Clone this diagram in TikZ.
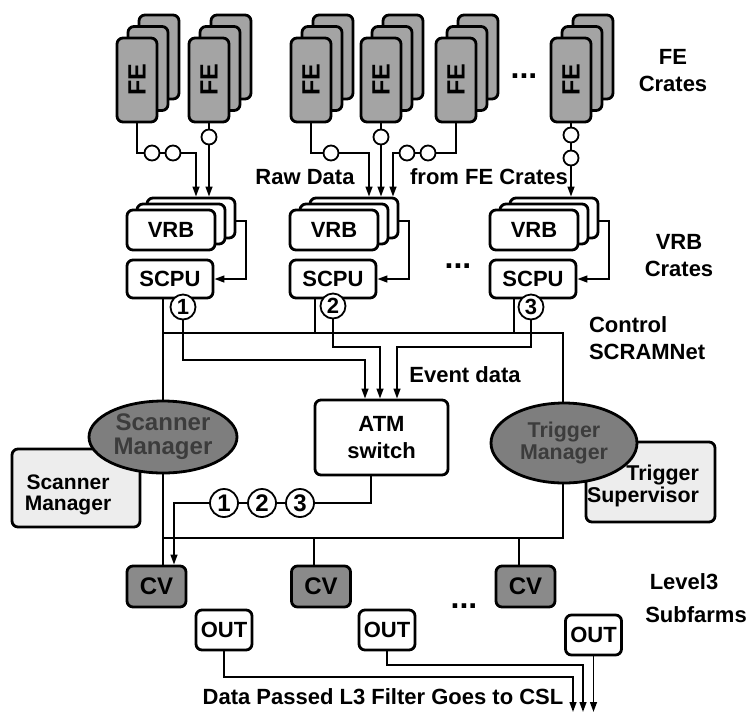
\documentclass[tikz,border=0pt]{standalone}
\usepackage{fontspec}
\setmainfont{Liberation Sans}
\usetikzlibrary{arrows.meta,shapes.geometric,calc}
\pgfdeclarelayer{wires}
\pgfsetlayers{wires,main}

\definecolor{fegray}{HTML}{A4A4A4}
\definecolor{cvgray}{HTML}{8A8A8A}
\definecolor{mgrgray}{HTML}{7E7E7E}
\definecolor{mgrtext}{HTML}{3C3C3C}
\definecolor{panelgray}{HTML}{EDEDED}

\begin{document}
\begin{tikzpicture}[x=0.5pt,y=-0.5pt,
  every node/.style={font=\fontsize{11}{13.5}\selectfont\bfseries},
  box/.style={draw, line width=1.4pt, rounded corners=3pt, fill=white, inner sep=0pt, align=center},
  fecard/.style={box, fill=fegray, minimum width=20pt, minimum height=42pt, font=\fontsize{12.5}{12.5}\selectfont\bfseries},
  vrbbox/.style={box, minimum width=44pt, minimum height=20pt},
  scpubox/.style={box, minimum width=43pt, minimum height=19pt},
  cvbox/.style={box, fill=cvgray, minimum width=29.5pt, minimum height=20.5pt, font=\fontsize{12}{12}\selectfont\bfseries},
  outbox/.style={box, minimum width=28pt, minimum height=20pt},
  atmbox/.style={box, minimum width=66.5pt, minimum height=37.5pt},
  panel/.style={box, fill=panelgray},
  mgr/.style={ellipse, draw, line width=1.4pt, fill=mgrgray, text=mgrtext, inner sep=0pt, align=center},
  fering/.style={circle, draw, line width=0.9pt, fill=white, minimum size=7.5pt, inner sep=0pt},
  tag/.style={circle, draw, line width=0.9pt, fill=white, minimum size=12.5pt, inner sep=0pt, font=\fontsize{11}{11}\selectfont\bfseries},
  bigtag/.style={tag, minimum size=14pt, font=\fontsize{12}{12}\selectfont\bfseries},
  lbl/.style={align=center},
  dots/.style={font=\fontsize{16}{16}\selectfont\bfseries},
  link/.style={line width=0.9pt},
  arr/.style={link, -{Triangle[length=5pt,width=3.4pt]}},
]
\useasboundingbox (0,0) rectangle (750,714);

% ---- front-end crates: three cards per crate ----
\foreach \i/\L in {1/117,2/189,3/291,4/361,5/436,6/551} {
  \node[fecard] (fe\i b) at (\L+42,57) {};
  \node[fecard] (fe\i m) at (\L+31,68.5) {};
  \node[fecard] (fe\i) at (\L+20,80) {\rotatebox{90}{FE}};
}
\node[dots] (fedots) at (524,76) {...};
\node[lbl] (felbl) at (673,71) {FE\\Crates};

% optical links from the FE crates
\node[fering] (f11) at (152,153) {};
\node[fering] (f12) at (173,153) {};
\node[fering] (f21) at (209,137) {};
\node[fering] (f31) at (331,153) {};
\node[fering] (f41) at (381,137) {};
\node[fering] (f51) at (428,153) {};
\node[fering] (f52) at (407,153) {};
\node[fering] (f61) at (571,135) {};
\node[fering] (f62) at (571,158) {};
\coordinate (a1) at (196,153);
\coordinate (a3) at (369,153);
\coordinate (a5) at (393,153);
\node (rawlbl) at (305,177) {Raw Data};
\node (fromlbl) at (489,177) {from FE Crates};

% ---- VRB crates and their SCPUs ----
\foreach \i/\X in {1/171,2/334,3/534} {
  \node[vrbbox] (vrb\i b) at (\X+20,218) {};
  \node[vrbbox] (vrb\i m) at (\X+10,224) {};
  \node[vrbbox] (vrb\i) at (\X,230) {VRB};
  \node[scpubox] (scpu\i) at (\X-1,279) {SCPU};
  \coordinate (r\i) at (\X+75,221);
}
\node[dots] (vrbdots) at (458,266) {...};
\node[lbl] (vrblbl) at (679,256) {VRB\\Crates};
\node[anchor=west, align=left] (ctllbl) at (582,338) {Control\\SCRAMNet};

\node[tag] (n1) at (183,307) {1};
\node[tag] (n2) at (333,306) {2};
\node[tag] (n3) at (531,307) {3};

% ---- event builder ----
\node[atmbox] (atm) at (381.5,437.5) {ATM\\switch};
\node (evlbl) at (465,375) {Event data};
\coordinate (t1) at (365,360);
\coordinate (t2) at (380,347);
\coordinate (t3) at (397,347);

\node[bigtag] (m1) at (224,503) {1};
\node[bigtag] (m2) at (262,503) {2};
\node[bigtag] (m3) at (300,503) {3};
\coordinate (u0) at (371,503);
\coordinate (u1) at (174,503);

% ---- managers ----
\node[panel, minimum width=64pt, minimum height=39pt] (smbox) at (76,488) {};
\node[lbl, font=\fontsize{10.5}{10.5}\selectfont\bfseries] (smtxt) at (68,495) {Scanner\\Manager};
\node[mgr, minimum width=74pt, minimum height=36pt, font=\fontsize{12}{12}\selectfont\bfseries] (smgr) at (163,437) {Scanner\\Manager};

\node[panel, minimum width=64.5pt, minimum height=40pt] (tsbox) at (650.5,482) {};
\node[anchor=east, align=right, font=\fontsize{10.7}{11}\selectfont\bfseries] (tstxt) at (706,486) {Trigger\\Supervisor};
\node[mgr, minimum width=73pt, minimum height=40pt, font=\fontsize{10.7}{10.7}\selectfont\bfseries] (tmgr) at (564,443) {Trigger\\Manager};

% ---- control ring (SCRAMNet) ----
\coordinate (sn1) at (163,333);
\coordinate (sn2) at (563,333);
\coordinate (sn3) at (563,538);
\coordinate (sn4) at (163,538);
\coordinate (d2) at (315,333);
\coordinate (d3) at (514,333);
\coordinate (e2) at (314,538);
\coordinate (e3) at (519,538);

% ---- level 3 subfarms ----
\node[cvbox] (cv1) at (156.5,586.5) {CV};
\node[cvbox] (cv2) at (321,586.5) {CV};
\node[cvbox] (cv3) at (525.5,586.5) {CV};
\node[dots] (cvdots) at (464,606) {...};
\node[outbox] (out1) at (224,630) {OUT};
\node[outbox] (out2) at (387,630) {OUT};
\node[outbox] (out3) at (593.5,635) {OUT};
\node (l3lbl) at (684,582) {Level3};
\node (sflbl) at (696,615) {Subfarms};

\coordinate (o1) at (573,677);
\coordinate (o2) at (583,665);
\coordinate (fin) at (0,712);
\node (csllbl) at (383,697) {Data Passed L3 Filter Goes to CSL};

% ---- all wiring sits behind the boxes ----
\begin{pgfonlayer}{wires}
  % raw data from FE crates to VRBs
  \draw[arr] (fe1.south) |- (f11) -- (f12) -- (a1) -- (a1 |- vrb1b.north);
  \draw[arr] (fe2.south) -- (f21) -- (f21 |- vrb1b.north);
  \draw[arr] (fe3.south) |- (f31) -- (a3) -- (a3 |- vrb2b.north);
  \draw[arr] (fe4.south) -- (f41) -- (f41 |- vrb2b.north);
  \draw[arr] (fe5.south) |- (f51) -- (f52) -- (a5) -- (a5 |- vrb2b.north);
  \draw[arr] (fe6.south) -- (f61) -- (f62) -- (f62 |- vrb3b.north);

  % VRB to SCPU within each crate
  \foreach \i in {1,2,3}
    \draw[arr] (vrb\i b.east |- r\i) -- (r\i) |- (scpu\i.east);

  % SCRAMNet ring and its taps
  \draw[link] (scpu1.south -| sn1) -- (cv1.north -| sn1);
  \draw[link] (sn1) -- (sn2) -- (sn3) -- (sn4);
  \draw[link] (scpu2.south -| d2) -- (d2);
  \draw[link] (scpu3.south -| d3) -- (d3);
  \draw[link] (e2) -- (cv2.north -| e2);
  \draw[link] (e3) -- (cv3.north -| e3);

  % event data into the ATM switch
  \draw[arr] (n1.south) |- (t1) -- (t1 |- atm.north);
  \draw[arr] (n2.south) |- (t2) -- (t2 |- atm.north);
  \draw[arr] (n3.south) |- (t3) -- (t3 |- atm.north);

  % ATM switch out to the converters
  \draw[arr] (atm.south -| u0) -- (u0) -- (m3) -- (m2) -- (m1) -- (u1) -- (u1 |- cv1.north);

  % accepted events to CSL
  \draw[arr] (out1.south) |- (o1) -- (o1 |- fin);
  \draw[arr] (out2.south) |- (o2) -- (o2 |- fin);
  \draw[arr] (out3.south) -- (out3.south |- fin);
\end{pgfonlayer}
\end{tikzpicture}
\end{document}
